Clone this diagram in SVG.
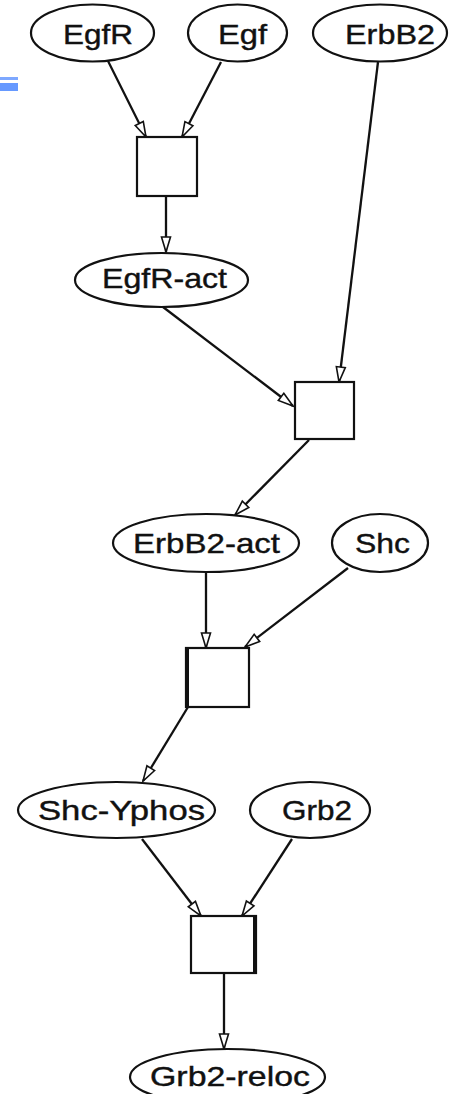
<svg xmlns="http://www.w3.org/2000/svg" width="451" height="1094" viewBox="0 0 451 1094">
<style>
.n ellipse{fill:#fff;stroke:#111;stroke-width:2.2}
.n rect{fill:#fff;stroke:#111;stroke-width:2.2}
.n text{font-family:"Liberation Sans",Arial,sans-serif;font-size:28px;fill:#111;stroke:#111;stroke-width:0.4}
#edges line{stroke:#111;stroke-width:2.3;marker-end:url(#ah)}
.thick{stroke:#111;stroke-width:4}
</style>
<defs>
<marker id="ah" markerUnits="userSpaceOnUse" markerWidth="18" markerHeight="12" refX="16" refY="5" orient="auto" overflow="visible">
<path d="M1,0.5 L16,5 L1,9.5 Z" fill="#fff" stroke="#111" stroke-width="1.6"/>
</marker>
</defs>
<rect x="0" y="77" width="18" height="3" fill="#7ea8ff"/>
<rect x="0" y="83" width="18" height="8" fill="#6699ff"/>
<g id="edges">
<line x1="108" y1="61" x2="146" y2="137"/>
<line x1="221" y1="62" x2="182" y2="137"/>
<line x1="166" y1="196" x2="166" y2="252"/>
<line x1="378" y1="62" x2="339" y2="382"/>
<line x1="163" y1="307" x2="293" y2="406"/>
<line x1="309" y1="440" x2="235" y2="515"/>
<line x1="206" y1="572" x2="206" y2="648"/>
<line x1="348" y1="568" x2="245" y2="647"/>
<line x1="188" y1="707" x2="143" y2="781"/>
<line x1="142" y1="839" x2="201" y2="916"/>
<line x1="292" y1="839" x2="242" y2="916"/>
<line x1="224" y1="973" x2="224" y2="1049"/>
</g>
<g id="EgfR" class="n"><ellipse cx="92.5" cy="33" rx="61.5" ry="28.5"/><text x="63" y="44" textLength="70" lengthAdjust="spacingAndGlyphs">EgfR</text></g>
<g id="Egf" class="n"><ellipse cx="237.5" cy="33" rx="49.5" ry="28.5"/><text x="218" y="44" textLength="49" lengthAdjust="spacingAndGlyphs">Egf</text></g>
<g id="ErbB2" class="n"><ellipse cx="380" cy="33" rx="67" ry="28.5"/><text x="345" y="44" textLength="90" lengthAdjust="spacingAndGlyphs">ErbB2</text></g>
<g id="r1" class="n"><rect x="137" y="137" width="60" height="59"/></g>
<g id="EgfR-act" class="n"><ellipse cx="161.5" cy="280" rx="86.5" ry="27"/><text x="102" y="288" textLength="125" lengthAdjust="spacingAndGlyphs">EgfR-act</text></g>
<g id="r2" class="n"><rect x="295" y="382" width="59" height="57"/></g>
<g id="ErbB2-act" class="n"><ellipse cx="206" cy="543" rx="93" ry="29"/><text x="133" y="553" textLength="147" lengthAdjust="spacingAndGlyphs">ErbB2-act</text></g>
<g id="Shc" class="n"><ellipse cx="380" cy="543" rx="48" ry="29"/><text x="355" y="553" textLength="55" lengthAdjust="spacingAndGlyphs">Shc</text></g>
<g id="r3" class="n"><rect x="186" y="648" width="63" height="59"/><line class="thick" x1="187" y1="648" x2="187" y2="708"/></g>
<g id="Shc-Yphos" class="n"><ellipse cx="116.5" cy="810" rx="98.5" ry="28"/><text x="38" y="820" textLength="167" lengthAdjust="spacingAndGlyphs">Shc-Yphos</text></g>
<g id="Grb2" class="n"><ellipse cx="310" cy="810" rx="60" ry="28"/><text x="282" y="820" textLength="70" lengthAdjust="spacingAndGlyphs">Grb2</text></g>
<g id="r4" class="n"><rect x="191" y="916" width="65" height="57"/><line class="thick" x1="255" y1="916" x2="255" y2="974"/></g>
<g id="Grb2-reloc" class="n"><ellipse cx="227.5" cy="1077" rx="97.5" ry="28"/><text x="150" y="1086" textLength="160" lengthAdjust="spacingAndGlyphs">Grb2-reloc</text></g>
</svg>
